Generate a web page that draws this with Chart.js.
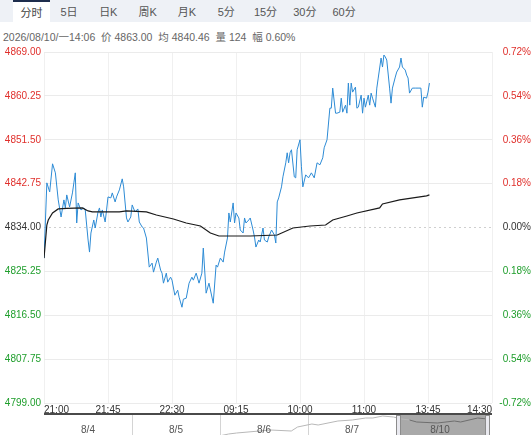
<!DOCTYPE html>
<html>
<head>
<meta charset="utf-8">
<script src="https://cdn.jsdelivr.net/npm/chart.js@4.4.1/dist/chart.umd.min.js"></script>
<style>
body { margin: 0; width: 531px; height: 435px; overflow: hidden; background: #fff; position: relative;
       font-family: "Liberation Sans", "Noto Sans CJK SC", sans-serif; }
#tabs { position: absolute; left: 0; top: 0; width: 531px; height: 22px; background: #eef1f6; }
.tab { position: absolute; top: 0; width: 38px; height: 22px; line-height: 24px; text-align: center; font-size: 11px; color: #555; }
.tab.on { background: #fff; border-top: 2px solid #1e2d4d; height: 21px; line-height: 22px; color: #444; }
#info { position: absolute; left: 3px; top: 29px; font-size: 10.5px; color: #666; white-space: pre; }
#main { position: absolute; left: 0; top: 42px; width: 531px; height: 372px; }
#axisLine { position: absolute; left: 44px; top: 413px; width: 448px; height: 2px; background: #4a4a4a; }
#nav { position: absolute; left: 44px; top: 415px; width: 448px; height: 40px; }
.sep { position: absolute; top: 0; width: 1px; height: 40px; background: #d4d4d4; }
.day { position: absolute; top: 9px; width: 40px; margin-left: -20px; text-align: center; font-size: 10px; color: #555; z-index: 3; }
#box { position: absolute; left: 353px; top: 0; width: 90px; height: 40px; background: #a9a9a9; }
.handle { position: absolute; top: 0; width: 5px; height: 40px; background: #e9e9ef; border: 1px solid #8c8c8c; box-sizing: border-box; z-index: 4; }
#navChart { position: absolute; left: 0; top: 0; width: 448px; height: 40px; z-index: 2; }
</style>
</head>
<body>
<div id="tabs"></div>
<div id="info"></div>
<div id="main"><canvas id="priceChart"></canvas></div>
<div id="axisLine"></div>
<div id="nav">
  <div id="box"></div>
  <div id="navChart"><canvas id="overviewChart"></canvas></div>
</div>

<script>
// Labels
const tabNames = ['分时', '5日', '日K', '周K', '月K', '5分', '15分', '30分', '60分'];
const infoText = '2026/08/10/一14:06  价 4863.00  均 4840.46  量 124  幅 0.60%';
const xTickLabels = ['21:00', '21:45', '22:30', '09:15', '10:00', '11:00', '13:45', '14:30'];
const leftTickLabels = ['4869.00', '4860.25', '4851.50', '4842.75', '4834.00', '4825.25', '4816.50', '4807.75', '4799.00'];
const rightTickLabels = ['0.72%', '0.54%', '0.36%', '0.18%', '0.00%', '0.18%', '0.36%', '0.54%', '-0.72%'];
const dayLabels = ['8/4', '8/5', '8/6', '8/7', '8/10'];

const prevClose = 4834;
const sessionStart = 0;    // minutes from 21:00
const sessionEnd = 315;

// Price (minutes from open, price)
const priceMinutes = [
    0, 2, 4, 6, 8, 10, 12, 14, 15, 16,
    18, 20, 21, 22, 23, 24, 26, 28, 29, 31,
    32, 33, 35, 36, 38, 39, 40, 41, 43, 44,
    45, 47, 48, 50, 51, 53, 55, 56, 58, 59,
    61, 62, 64, 66, 67, 69, 70, 72, 74, 76,
    77, 79, 80, 82, 83, 84, 86, 87, 89, 90,
    92, 94, 95, 97, 98, 100, 102, 104, 105, 107,
    109, 111, 112, 114, 116, 119, 121, 122, 124, 126,
    127, 129, 130, 131, 133, 134, 135, 137, 138, 140,
    141, 142, 144, 145, 147, 148, 149, 151, 152, 154,
    155, 157, 158, 160, 162, 163, 164, 165, 167, 168,
    170, 171, 172, 173, 174, 176, 177, 178, 180, 181,
    182, 184, 186, 188, 190, 192, 194, 196, 197, 199,
    201, 202, 203, 205, 206, 208, 209, 210, 212, 213,
    214, 215, 216, 217, 219, 220, 221, 223, 224, 225,
    226, 228, 229, 230, 231, 233, 234, 235, 237, 238,
    239, 240, 241, 243, 244, 245, 247, 248, 250, 251,
    252, 254, 255, 256, 257, 259, 261, 263, 265, 266,
    267, 269, 270, 271
];
const priceValues = [
    4827.9, 4842.9, 4841.1, 4846.7, 4844.9, 4839.5, 4836.1, 4839.5, 4837.9, 4840.5,
    4838.1, 4840.9, 4842.9, 4844.9, 4834.9, 4838.9, 4837.5, 4837.9, 4837.5, 4831.5,
    4829.1, 4832.9, 4835.5, 4833.9, 4837.1, 4837.9, 4836.1, 4837.5, 4835.1, 4837.5,
    4840.1, 4839.9, 4840.9, 4839.1, 4840.1, 4841.5, 4843.7, 4842.1, 4835.9, 4835.1,
    4836.1, 4838.5, 4837.1, 4837.7, 4835.1, 4834.1, 4833.9, 4831.9, 4826.1, 4826.9,
    4825.1, 4827.1, 4827.9, 4825.5, 4824.9, 4822.9, 4824.9, 4823.1, 4824.1, 4823.5,
    4820.5, 4821.5, 4820.1, 4818.1, 4819.7, 4819.9, 4822.9, 4824.1, 4823.5, 4824.9,
    4822.9, 4824.9, 4829.9, 4820.9, 4822.9, 4818.9, 4826.5, 4826.1, 4827.9, 4827.1,
    4829.1, 4831.9, 4836.9, 4835.1, 4838.9, 4834.9, 4836.9, 4835.9, 4833.5, 4832.9,
    4835.9, 4834.9, 4835.5, 4835.9, 4833.5, 4832.1, 4830.1, 4831.5, 4831.1, 4833.9,
    4831.5, 4831.1, 4832.1, 4833.5, 4832.5, 4830.9, 4839.1, 4839.9, 4842.1, 4844.1,
    4846.9, 4848.9, 4846.9, 4848.9, 4849.5, 4844.1, 4843.9, 4849.5, 4851.5, 4846.1,
    4842.1, 4844.5, 4843.9, 4844.9, 4843.9, 4846.9, 4846.5, 4847.9, 4849.9, 4851.5,
    4857.8, 4857.8, 4861.8, 4856.8, 4856.8, 4857.0, 4859.8, 4857.0, 4858.4, 4856.8,
    4862.8, 4858.4, 4862.8, 4861.0, 4862.0, 4857.8, 4858.0, 4860.4, 4856.8, 4859.8,
    4858.0, 4860.4, 4858.4, 4860.8, 4859.8, 4858.0, 4861.8, 4863.8, 4867.8, 4866.0,
    4868.4, 4868.0, 4867.4, 4861.8, 4858.8, 4861.8, 4864.0, 4865.0, 4866.0, 4867.8,
    4866.0, 4865.4, 4864.4, 4863.8, 4860.8, 4861.8, 4861.8, 4861.8, 4861.8, 4858.0,
    4860.0, 4859.8, 4861.0, 4862.8
];

// Average price
const avgMinutes = [0, 2, 3, 6, 10, 16, 27, 31, 34, 45, 53, 58, 72, 79, 91, 100, 110, 117, 123, 133,
    145, 164, 175, 187, 198, 203, 213, 220, 236, 238, 250, 269, 271];
const avgValues = [4827.9, 4834.5, 4835.5, 4836.9, 4837.7, 4837.8, 4837.9, 4837.3, 4837.1, 4837.1,
    4837.1, 4837.3, 4837.1, 4836.5, 4835.7, 4834.9, 4834.3, 4832.9, 4832.3, 4832.3,
    4832.3, 4832.5, 4833.9, 4834.3, 4834.5, 4835.5, 4836.3, 4836.9, 4837.9, 4838.7,
    4839.5, 4840.3, 4840.5];

// Navigator overview (day index, price)
const navDays = [1.9, 2.06, 2.15, 2.53, 2.76, 2.83, 2.99, 3.06, 3.28, 3.44, 3.59, 3.67, 3.78, 3.9, 3.99,
    4.08, 4.16, 4.39, 4.58, 4.65, 4.84, 4.95];
const navValues = [4680, 4710, 4720, 4750, 4740, 4780, 4810, 4800, 4840, 4850, 4870, 4870, 4890, 4880, 4860,
    4850, 4830, 4820, 4840, 4830, 4870, 4860];
const selectedDayStart = 4;

// Header
const tabs = document.getElementById('tabs');
tabNames.forEach((name, i) => {
    const t = document.createElement('div');
    t.className = 'tab' + (i === 0 ? ' on' : '');
    t.textContent = name;
    t.style.left = (i === 0 ? 13 : 50 + (i - 1) * 39.3) + 'px';
    if (i === 0) t.style.width = '37px';
    tabs.appendChild(t);
});
document.getElementById('info').textContent = infoText;

// Navigator bits
const nav = document.getElementById('nav');
dayLabels.forEach((d, i) => {
    if (i > 0 && i < dayLabels.length - 1) {
        const s = document.createElement('div');
        s.className = 'sep';
        s.style.left = (i * 88) + 'px';
        nav.appendChild(s);
    }
    const l = document.createElement('div');
    l.className = 'day';
    l.textContent = d;
    l.style.left = (44 + i * 88) + 'px';
    nav.appendChild(l);
});
[352, 441].forEach(x => {
    const h = document.createElement('div');
    h.className = 'handle';
    h.style.left = x + 'px';
    nav.appendChild(h);
});

Chart.defaults.font.family = 'Liberation Sans';
Chart.defaults.font.size = 10;
Chart.defaults.color = '#333';

const isBase = (v) => Math.abs(v - prevClose) < 0.01;
const tickColor = (ctx) => isBase(ctx.tick.value) ? '#333' : (ctx.tick.value > prevClose ? '#e0302c' : '#1f9e2c');

new Chart(document.getElementById('priceChart').getContext('2d'), {
    type: 'line',
    data: {
        datasets: [
            {
                label: '均价',
                data: avgMinutes.map((m, i) => ({ x: m, y: avgValues[i] })),
                borderColor: '#1a1a1a',
                borderWidth: 1.2,
                pointRadius: 0,
                order: 0
            },
            {
                label: '价格',
                data: priceMinutes.map((m, i) => ({ x: m, y: priceValues[i] })),
                borderColor: '#2d8bd5',
                borderWidth: 1,
                pointRadius: 0,
                order: 1
            },
            {
                label: '昨收',
                data: [{ x: sessionStart, y: prevClose }, { x: sessionEnd, y: prevClose }],
                borderColor: '#cfcfcf',
                borderWidth: 1,
                borderDash: [2, 3],
                pointRadius: 0,
                order: 2
            }
        ]
    },
    options: {
        responsive: true,
        maintainAspectRatio: false,
        animation: false,
        events: [],
        layout: { padding: { top: 10, left: 0, right: 0, bottom: 0 } },
        plugins: { legend: { display: false }, tooltip: { enabled: false } },
        scales: {
            x: {
                type: 'linear',
                min: sessionStart,
                max: sessionEnd,
                afterFit: (s) => { s.height = 11; },
                ticks: {
                    stepSize: 45,
                    autoSkip: false,
                    maxRotation: 0,
                    align: 'inner',
                    padding: 1,
                    color: '#333',
                    callback: (v, i) => xTickLabels[i]
                },
                grid: { color: '#f0f0f0', drawTicks: false },
                border: { display: false }
            },
            y: {
                position: 'left',
                min: 4799,
                max: 4869,
                afterFit: (s) => { s.width = 44; },
                ticks: {
                    stepSize: 8.75,
                    padding: 3,
                    color: tickColor,
                    callback: (v, i, t) => leftTickLabels[t.length - 1 - i]
                },
                grid: { color: (ctx) => isBase(ctx.tick.value) ? 'rgba(0,0,0,0)' : '#ebebeb', drawTicks: false },
                border: { display: false }
            },
            y1: {
                position: 'right',
                min: 4799,
                max: 4869,
                afterFit: (s) => { s.width = 39; },
                ticks: {
                    stepSize: 8.75,
                    padding: 3,
                    crossAlign: 'far',
                    color: tickColor,
                    callback: (v, i, t) => rightTickLabels[t.length - 1 - i]
                },
                grid: { drawOnChartArea: false, drawTicks: false },
                border: { display: false }
            }
        }
    }
});

new Chart(document.getElementById('overviewChart').getContext('2d'), {
    type: 'line',
    data: {
        datasets: [{
            data: navDays.map((d, i) => ({ x: d, y: navValues[i] })),
            borderColor: '#b8b8b8',
            borderWidth: 1,
            pointRadius: 0,
            segment: {
                borderColor: (ctx) => ctx.p0.parsed.x >= selectedDayStart ? '#6e6e6e' : '#b8b8b8'
            }
        }]
    },
    options: {
        responsive: true,
        maintainAspectRatio: false,
        animation: false,
        events: [],
        layout: { padding: 0 },
        plugins: { legend: { display: false }, tooltip: { enabled: false } },
        scales: {
            x: { type: 'linear', display: false, min: 0, max: dayLabels.length },
            y: { display: false, min: 4500, max: 4900 }
        }
    }
});
</script>
</body>
</html>
